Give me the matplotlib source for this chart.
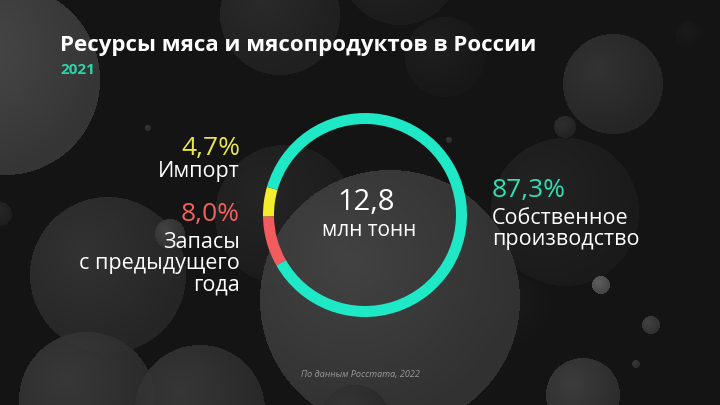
import numpy as np
import matplotlib
matplotlib.use('Agg')
import matplotlib.pyplot as plt

plt.rcParams['font.family'] = ['Open Sans', 'DejaVu Sans']

# data
labels = ['Импорт', 'Запасы\nс предыдущего\nгода', 'Собственное\nпроизводство']
shares = [4.7, 8.0, 87.3]
share_text = ['4,7%', '8,0%', '87,3%']
colors = ['#f2ee2c', '#f25c5e', '#1fe8c6']
text_colors = ['#e9e64a', '#f0605e', '#2ee0b4']
total_text = '12,8'
unit_text = 'млн тонн'
title = 'Ресурсы мяса и мясопродуктов в России'
year = '2021'
source = 'По данным Росстата, 2022'

W, H = 720, 405

# background bubbles: x, y (pixels from top-left), radius, grey level
bubbles = [
    (5, 80, 95, 72), (280, 15, 60, 42), (400, -35, 60, 36), (445, 57, 40, 30),
    (613, 84, 50, 50), (565, 127, 11, 46), (690, 35, 14, 26), (565, 212, 74, 34),
    (517, 312, 35, 26), (285, 215, 70, 36), (390, 300, 130, 66), (108, 275, 78, 50),
    (87, 400, 68, 56), (200, 410, 65, 54), (170, 234, 15, 64), (0, 214, 12, 40),
    (601, 285, 9, 95), (651, 325, 9, 66), (583, 395, 37, 60), (355, 420, 35, 50),
    (148, 128, 3, 55), (449, 140, 3, 55), (636, 364, 4, 55),
]

yy, xx = np.mgrid[0:H, 0:W] + 0.5
img = np.full((H, W), 20.0)
for bx, by, br, lv in bubbles:
    d = np.hypot(xx - bx, yy - by)
    mask = d <= br
    hd = np.hypot(xx - (bx - 0.3 * br), yy - (by - 0.3 * br)) / br
    val = lv * (1.08 - 0.22 * np.clip(hd, 0, 1.3))
    img[mask] = 0.1 * img[mask] + 0.9 * val[mask]
img = np.clip(img, 0, 255) / 255.0
rgb = np.dstack([img, img, img])

fig = plt.figure(figsize=(7.2, 4.05), dpi=100)
ax = fig.add_axes([0, 0, 1, 1])
ax.imshow(rgb, extent=(0, W, 0, H), origin='upper', interpolation='bilinear', zorder=0)

cx, cy, R = 365, H - 215, 102
ax.pie(shares, colors=colors, startangle=164, counterclock=True,
       center=(cx, cy), radius=R, wedgeprops=dict(width=11, linewidth=0))
ax.set_xlim(0, W)
ax.set_ylim(0, H)
ax.set_aspect('equal')
ax.axis('off')

def Y(y):
    return H - y

ax.text(60, Y(46), title, color='white', fontsize=16, fontweight='bold', va='center', ha='left')
ax.text(60, Y(70), year, color='#2dd4a8', fontsize=11, fontweight='bold', va='center', ha='left')

ax.text(cx + 1, Y(202), total_text, color='white', fontsize=21, va='center', ha='center')
ax.text(cx + 4, Y(230), unit_text, color='white', fontsize=15, va='center', ha='center')

# left labels
ax.text(240, Y(148), share_text[0], color=text_colors[0], fontsize=19, va='center', ha='right')
ax.text(240, Y(171), labels[0], color='white', fontsize=15.5, va='center', ha='right')
ax.text(240, Y(215), share_text[1], color=text_colors[1], fontsize=19, va='center', ha='right')
ax.text(240, Y(264), labels[1], color='white', fontsize=15.5, va='center', ha='right',
        linespacing=1.0, multialignment='right')

# right label
ax.text(492, Y(191), share_text[2], color=text_colors[2], fontsize=19, va='center', ha='left')
ax.text(492, Y(229), labels[2], color='white', fontsize=15.5, va='center', ha='left',
        linespacing=1.0)

ax.text(360, Y(375), source, color='#9a9a9a', fontsize=6.5, style='italic', va='center', ha='center')

fig.savefig('out.png', dpi=100)
